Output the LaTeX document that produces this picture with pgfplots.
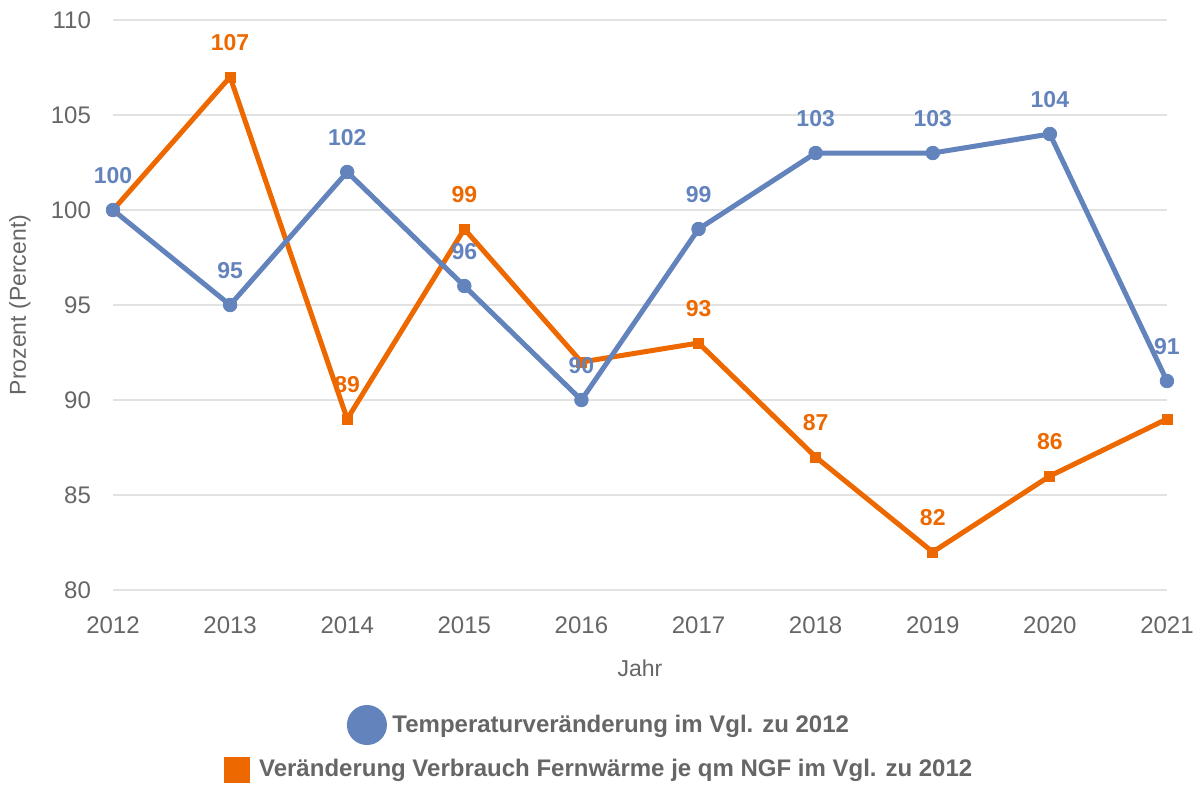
\documentclass[border=0pt]{standalone}
\usepackage{pgfplots}
\pgfplotsset{compat=1.18}
\usepackage{fontspec}
\setmainfont{Liberation Sans}
\definecolor{cblue}{RGB}{99,131,189}
\definecolor{corange}{RGB}{238,104,0}
\definecolor{cgray}{RGB}{102,102,102}
\definecolor{cgrid}{RGB}{226,226,226}
\begin{document}
\begin{tikzpicture}
\useasboundingbox (-56.5pt,-105pt) rectangle (543.5pt,295pt);
\begin{axis}[
  scale only axis, width=527pt, height=285pt,
  xmin=2012, xmax=2021, ymin=80, ymax=110,
  xtick={2012,2013,2014,2015,2016,2017,2018,2019,2020,2021},
  xticklabels={2012,2013,2014,2015,2016,2017,2018,2019,2020,2021},
  ytick={80,85,90,95,100,105,110},
  axis line style={draw=none}, major tick length=0pt,
  ymajorgrids, grid style={cgrid, line width=0.9pt},
  /pgf/number format/assume math mode=true,
  tick label style={font=\fontsize{12}{14}\selectfont, text=cgray},
  yticklabel style={xshift=-7.5pt},
  xticklabel style={yshift=-10pt},
  xlabel={Jahr}, ylabel={Prozent (Percent)},
  every axis x label/.style={at={(axis description cs:0.5,0)}, anchor=center, yshift=-39pt,
    font=\fontsize{11.5}{13}\selectfont, text=cgray},
  every axis y label/.style={at={(axis description cs:-0.0882,0.5)}, rotate=90, anchor=center,
    font=\fontsize{11.5}{13}\selectfont, text=cgray},
  clip=false,
  nodes near coords, point meta=explicit symbolic,
  every node near coord/.append style={anchor=center, yshift=17pt, font=\fontsize{11.5}{13}\selectfont\bfseries},
  legend style={at={(axis description cs:0.5,0)}, anchor=center, xshift=-20pt, yshift=-67.5pt,
    draw=none, fill=none, font=\fontsize{12}{14}\selectfont\bfseries, text=cgray},
]
\addplot[forget plot, corange, line width=2.5pt, mark=square*, mark size=2.5pt,
  mark options={line width=0.4pt},
  every node near coord/.append style={text=corange}] coordinates {
  (2012,100) [\phantom{0}]
  (2013,107) [107]
  (2014,89) [89]
  (2015,99) [99]
  (2016,92) [\phantom{0}]
  (2017,93) [93]
  (2018,87) [87]
  (2019,82) [82]
  (2020,86) [86]
  (2021,89) [\phantom{0}]
};
\addplot[cblue, line width=2.5pt, mark=*, mark size=3.4pt,
  mark options={line width=0.4pt},
  every node near coord/.append style={text=cblue},
  legend image code/.code={\fill[cblue] (8.75pt,0pt) circle (8.75pt); \path[draw=none,fill=none] (0pt,0pt) (19.5pt,0pt);}] coordinates {
  (2012,100) [100]
  (2013,95) [95]
  (2014,102) [102]
  (2015,96) [96]
  (2016,90) [90]
  (2017,99) [99]
  (2018,103) [103]
  (2019,103) [103]
  (2020,104) [104]
  (2021,91) [91]
};
\addlegendentry{Temperaturveränderung im Vgl. zu 2012}
\end{axis}
\begin{axis}[
  scale only axis, width=527pt, height=285pt,
  xmin=2012, xmax=2021, ymin=80, ymax=110,
  hide axis,
  legend style={at={(axis description cs:0.5,0)}, anchor=center, xshift=-20pt, yshift=-89.75pt,
    draw=none, fill=none, font=\fontsize{12}{14}\selectfont\bfseries, text=cgray},
]
\addlegendimage{legend image code/.code={\fill[corange] (0pt,-6.25pt) rectangle (12.5pt,6.25pt); \path[draw=none,fill=none] (0pt,0pt) (15.5pt,0pt);}}
\addlegendentry{Veränderung Verbrauch Fernwärme je qm NGF im Vgl. zu 2012}
\end{axis}
\end{tikzpicture}
\end{document}
